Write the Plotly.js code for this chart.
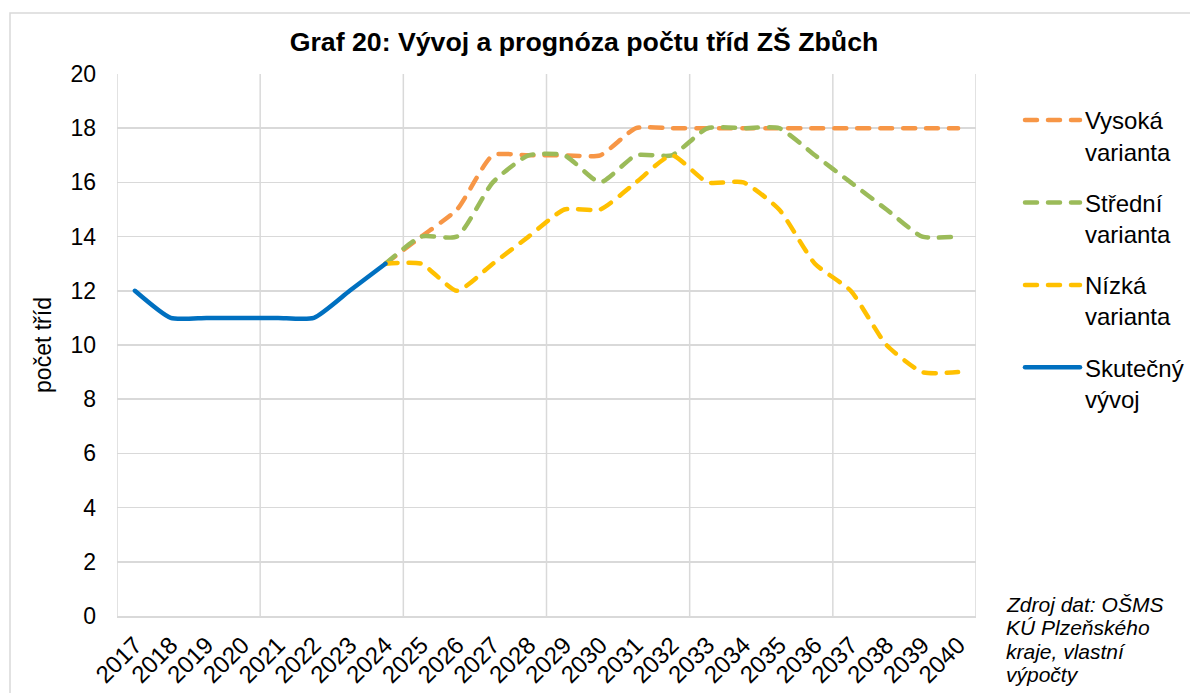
<!DOCTYPE html>
<html>
<head>
<meta charset="utf-8">
<script src="https://cdn.plot.ly/plotly-3.0.1.min.js"></script>
<style>
html, body { margin: 0; padding: 0; background: #fff; }
#chart { width: 1190px; height: 693px; }
.scatterlayer .js-line, .legendlines path { stroke-linecap: round; stroke-linejoin: round; }
</style>
</head>
<body>
<div id="chart"></div>
<script>
// ---- data ----
const years = ['2017','2018','2019','2020','2021','2022','2023','2024','2025','2026','2027','2028',
               '2029','2030','2031','2032','2033','2034','2035','2036','2037','2038','2039','2040'];
const actualYears = ['2017','2018','2019','2020','2021','2022','2023','2024'];
const actualValues = [12, 11, 11, 11, 11, 11, 12, 13];
const forecastYears = ['2024','2025','2026','2027','2028','2029','2030','2031','2032','2033',
                       '2034','2035','2036','2037','2038','2039','2040'];
const highValues   = [13, 14, 15, 17, 17, 17, 17, 18, 18, 18, 18, 18, 18, 18, 18, 18, 18];
const mediumValues = [13, 14, 14, 16, 17, 17, 16, 17, 17, 18, 18, 18, 17, 16, 15, 14, 14];
const lowValues    = [13, 13, 12, 13, 14, 15, 15, 16, 17, 16, 16, 15, 13, 12, 10,  9,  9];
const seriesNames = ['Vysoká<br>varianta', 'Střední<br>varianta', 'Nízká<br>varianta', 'Skutečný<br>vývoj'];
const titleText = 'Graf 20: Vývoj a prognóza počtu tříd ZŠ Zbůch';
const yTitle = 'počet tříd';
const sourceLines = ['Zdroj dat: OŠMS', 'KÚ Plzeňského', 'kraje, vlastní', 'výpočty'];

// category index helper
const idx = y => years.indexOf(y);

const FONT = 'Liberation Sans, Arial, sans-serif';
const dashPat = '12px,11px';
const W = 4.5;
const smooth = 0.55;

const traces = [
  { name: seriesNames[0], x: forecastYears.map(idx), y: highValues, mode: 'lines',
    line: { color: '#F79646', width: W, dash: dashPat, shape: 'spline', smoothing: smooth },
    legendgroup: 'a' },
  { name: seriesNames[1], x: forecastYears.map(idx), y: mediumValues, mode: 'lines',
    line: { color: '#9BBB59', width: W, dash: dashPat, shape: 'spline', smoothing: smooth },
    legendgroup: 'b' },
  { name: seriesNames[2], x: forecastYears.map(idx), y: lowValues, mode: 'lines',
    line: { color: '#FFC000', width: W, dash: dashPat, shape: 'spline', smoothing: smooth },
    legendgroup: 'c' },
  { name: seriesNames[3], x: actualYears.map(idx), y: actualValues, mode: 'lines',
    line: { color: '#0070C0', width: W, shape: 'spline', smoothing: smooth },
    legendgroup: 'd' }
];

// vertical gridlines at category boundaries every 4 categories
const shapes = [];
for (let k = 0; k <= years.length; k += 4) {
  shapes.push({ type: 'line', xref: 'x', yref: 'paper', x0: k - 0.5, x1: k - 0.5, y0: 0, y1: 1,
                line: { color: '#D9D9D9', width: 1.5 }, layer: 'below' });
}
// outer chart border
shapes.push({ type: 'rect', xref: 'paper', yref: 'paper',
  x0: (10 - 117) / 859, x1: (1200 - 117) / 859, y0: (616 - 705) / 542, y1: (616 - 13) / 542,
  line: { color: '#D9D9D9', width: 1.5 }, fillcolor: 'rgba(0,0,0,0)', layer: 'below' });

// source note, one annotation per line (tight line spacing)
const annotations = sourceLines.map((t, i) => ({
  text: '<i>' + t + '</i>', xref: 'paper', yref: 'paper',
  x: (1004 - 117) / 859, y: (616 - (604 + i * 23.5)) / 542, xanchor: 'left', yanchor: 'middle',
  align: 'left', showarrow: false, font: { family: FONT, size: 21, color: '#000' }
}));

const layout = {
  width: 1190, height: 693,
  margin: { l: 117, r: 214, t: 74, b: 77, autoexpand: false },
  paper_bgcolor: '#fff', plot_bgcolor: '#fff',
  font: { family: FONT, color: '#000', size: 22 },
  title: { text: '<b>' + titleText + '</b>', font: { family: FONT, size: 26.7, color: '#000' },
           x: 584 / 1190, xanchor: 'center', y: 1 - 42 / 693, yanchor: 'middle' },
  xaxis: {
    range: [-0.5, years.length - 0.5],
    tickvals: years.map((_, i) => i), ticktext: years,
    tickangle: -45, showgrid: false, zeroline: false,
    showline: true, linecolor: '#D9D9D9', linewidth: 1.5,
    ticks: '', ticklen: 0, ticklabelstandoff: 4,
    tickfont: { family: FONT, size: 24, color: '#000' }
  },
  yaxis: {
    range: [0, 20], dtick: 2, tick0: 0,
    showgrid: true, gridcolor: '#D9D9D9', gridwidth: 1.5, zeroline: false,
    showline: false, ticks: '', ticklabelstandoff: 20,
    tickfont: { family: FONT, size: 23, color: '#000' },
    title: { text: yTitle, font: { family: FONT, size: 23, color: '#000' }, standoff: 12 }
  },
  showlegend: true,
  legend: {
    x: (1020 - 117) / 859, xanchor: 'left', y: (616 - 98) / 542, yanchor: 'top',
    font: { family: FONT, size: 24, color: '#000' },
    itemwidth: 55,
    tracegroupgap: 17, valign: 'top', bgcolor: 'rgba(0,0,0,0)'
  },
  shapes: shapes,
  annotations: annotations
};

Plotly.newPlot('chart', traces, layout, { displayModeBar: false, staticPlot: true });
</script>
</body>
</html>
